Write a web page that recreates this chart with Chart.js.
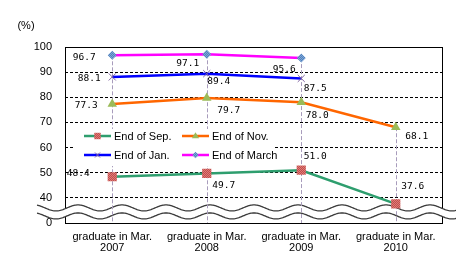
<!DOCTYPE html>
<html>
<head>
<meta charset="utf-8">
<script src="https://cdn.jsdelivr.net/npm/chart.js@4.4.0/dist/chart.umd.min.js"></script>
<style>
  html, body { margin: 0; padding: 0; background: #fff; }
  #chart { display: block; }
</style>
</head>
<body>
<canvas id="chart" width="456" height="263"></canvas>
<script>
/* Graduate employment rate by month, broken y axis (0 .. 40 squeezed). */

const categories = [
  ["graduate in Mar.", "2007"],
  ["graduate in Mar.", "2008"],
  ["graduate in Mar.", "2009"],
  ["graduate in Mar.", "2010"]
];
const seriesNames = ["End of Sep.", "End of Nov.", "End of Jan.", "End of March"];
const endOfSep = [48.4, 49.7, 51.0, 37.6];
const endOfNov = [77.3, 79.7, 78.0, 68.1];
const endOfJan = [88.1, 89.4, 87.5, null];
const endOfMarch = [96.7, 97.1, 95.6, null];

// axis: 30 is the bottom of the broken axis and is labelled "0"
const yMin = 30;
const yMax = 100;
const yStep = 10;
const yBreakLabel = "0";
const unitLabel = "(%)";

// where each value label sits, relative to its point (dx, dy in px)
const sepLabelOffsets = [[-34, -3], [17, 12], [14, -14], [17, -17]];
const novLabelOffsets = [[-26, 1], [22, 12], [16, 13], [21, 9]];
const janLabelOffsets = [[-23, 2], [12, 8], [14, 10]];
const marchLabelOffsets = [[-28, 2], [-19, 9], [-17, 11]];

const SANS = "'Liberation Sans', Arial, sans-serif";
const MONO = "'DejaVu Sans Mono', monospace";

function patternOf(c1, c2) {
  const p = document.createElement("canvas");
  p.width = 2; p.height = 2;
  const g = p.getContext("2d");
  g.fillStyle = c1; g.fillRect(0, 0, 2, 2);
  g.fillStyle = c2; g.fillRect(0, 0, 1, 1); g.fillRect(1, 1, 1, 1);
  return g.createPattern(p, "repeat");
}
const sepFill = patternOf("#c0504d", "#e07a78");
const marchFill = patternOf("#4f81bd", "#7fa6d6");

const seriesStyle = [
  { line: "#2e9e6e", style: "rect", radius: 6.5, fill: sepFill, edge: "#c0504d", offsets: sepLabelOffsets },
  { line: "#ff6600", style: "triangle", radius: 5.5, fill: "#9bbb59", edge: "#9bbb59", offsets: novLabelOffsets },
  { line: "#0000ff", style: "crossRot", radius: 5, fill: "#8064a2", edge: "#8064a2", offsets: janLabelOffsets },
  { line: "#ff00ff", style: "rectRot", radius: 4.5, fill: marchFill, edge: "#4f81bd", offsets: marchLabelOffsets }
];
const seriesData = [endOfSep, endOfNov, endOfJan, endOfMarch];

function drawMarker(ctx, style, x, y, r, fill, edge) {
  ctx.save();
  ctx.fillStyle = fill;
  ctx.strokeStyle = edge;
  ctx.lineWidth = 1;
  ctx.beginPath();
  if (style === "rect") {
    const s = r * Math.SQRT1_2;
    ctx.rect(x - s, y - s, 2 * s, 2 * s);
    ctx.fill();
  } else if (style === "triangle") {
    ctx.moveTo(x, y - r);
    ctx.lineTo(x + r * 0.95, y + r * 0.6);
    ctx.lineTo(x - r * 0.95, y + r * 0.6);
    ctx.closePath();
    ctx.fill();
  } else if (style === "rectRot") {
    ctx.moveTo(x, y - r); ctx.lineTo(x + r, y); ctx.lineTo(x, y + r); ctx.lineTo(x - r, y);
    ctx.closePath();
    ctx.fill();
  } else {
    const s = r * Math.SQRT1_2;
    ctx.moveTo(x - s, y - s); ctx.lineTo(x + s, y + s);
    ctx.moveTo(x + s, y - s); ctx.lineTo(x - s, y + s);
    ctx.stroke();
  }
  ctx.restore();
}

const breakPlugin = {
  id: "breakDecor",
  beforeDatasetsDraw(chart) {
    const { ctx, chartArea: a, scales } = chart;
    const y = scales.y;
    ctx.save();
    // plot frame
    ctx.strokeStyle = "#000";
    ctx.lineWidth = 1;
    ctx.strokeRect(a.left + 0.5, a.top + 0.5, a.right - a.left - 1, a.bottom - a.top);

    // wavy axis break, white band between two waves
    const y1 = y.getPixelForValue(36);
    const y2 = y.getPixelForValue(32.8);
    const amp = 3, period = 44, x0 = 37, x1 = chart.width;
    const wave = (x, yc) => yc - amp * Math.cos(2 * Math.PI * (x - 34) / period);
    ctx.beginPath();
    for (let x = x0; x <= x1; x++) ctx.lineTo(x, wave(x, y1));
    for (let x = x1; x >= x0; x--) ctx.lineTo(x, wave(x, y2));
    ctx.closePath();
    ctx.fillStyle = "#fff";
    ctx.fill();
    ctx.strokeStyle = "#3a3a3a";
    ctx.lineWidth = 1.3;
    [y1, y2].forEach((yc) => {
      ctx.beginPath();
      for (let x = x0; x <= x1; x++) ctx.lineTo(x, wave(x, yc));
      ctx.stroke();
    });

    // drop lines from the highest point of each category
    ctx.strokeStyle = "#a89cbc";
    ctx.lineWidth = 1;
    ctx.setLineDash([4, 2]);
    categories.forEach((_, j) => {
      let top = null, px = null;
      chart.data.datasets.forEach((ds, i) => {
        const pt = chart.getDatasetMeta(i).data[j];
        if (ds.data[j] == null || !pt) return;
        if (top === null || pt.y < top) { top = pt.y; px = pt.x; }
      });
      if (top === null) return;
      ctx.beginPath();
      ctx.moveTo(Math.round(px) + 0.5, top);
      ctx.lineTo(Math.round(px) + 0.5, a.bottom);
      ctx.stroke();
    });
    ctx.restore();
  },
  afterDatasetsDraw(chart) {
    const { ctx, chartArea: a } = chart;
    ctx.save();
    // value labels
    ctx.font = "9.5px " + MONO;
    ctx.fillStyle = "#000";
    ctx.textAlign = "center";
    ctx.textBaseline = "middle";
    seriesData.forEach((vals, i) => {
      const meta = chart.getDatasetMeta(i);
      vals.forEach((v, j) => {
        if (v == null) return;
        const off = seriesStyle[i].offsets[j];
        const pt = meta.data[j];
        ctx.fillText(v.toFixed(1), pt.x + off[0], pt.y + off[1]);
      });
    });

    // legend box inside the plot
    const lx = a.left + 10, ly = a.top + 82;
    ctx.fillStyle = "#fff";
    ctx.fillRect(lx, ly, 199, 37);
    ctx.font = "11px " + SANS;
    ctx.textAlign = "left";
    seriesNames.forEach((name, i) => {
      const col = i === 0 || i === 2 ? 0 : 1;
      const row = i < 2 ? 0 : 1;
      const sx = lx + 9 + col * 98;
      const sy = ly + 7 + row * 19;
      const st = seriesStyle[i];
      ctx.strokeStyle = st.line;
      ctx.lineWidth = 2.5;
      ctx.beginPath();
      ctx.moveTo(sx, sy);
      ctx.lineTo(sx + 27, sy);
      ctx.stroke();
      drawMarker(ctx, st.style, sx + 13.5, sy, st.radius * 0.7, st.fill, st.edge);
      ctx.fillStyle = "#000";
      ctx.fillText(name, sx + 30, sy + 1);
    });

    // unit label
    ctx.font = "11px " + SANS;
    ctx.textAlign = "center";
    ctx.fillText(unitLabel, 26, 26);
    ctx.restore();
  }
};

new Chart(document.getElementById("chart"), {
  type: "line",
  data: {
    labels: categories,
    datasets: seriesData.map((vals, i) => ({
      label: seriesNames[i],
      data: vals,
      borderColor: seriesStyle[i].line,
      borderWidth: 2.5,
      pointStyle: seriesStyle[i].style,
      pointRadius: seriesStyle[i].radius,
      pointBackgroundColor: seriesStyle[i].fill,
      pointBorderColor: seriesStyle[i].edge,
      pointBorderWidth: i === 2 ? 1 : 0,
      tension: 0,
      spanGaps: false
    }))
  },
  options: {
    responsive: false,
    animation: false,
    devicePixelRatio: 1,
    layout: { padding: { top: 47, right: 13, left: 0, bottom: 0 } },
    plugins: { legend: { display: false }, tooltip: { enabled: false } },
    scales: {
      x: {
        offset: true,
        grid: { display: false, drawTicks: false },
        border: { display: false },
        ticks: { color: "#000", font: { family: SANS, size: 11, lineHeight: 1.0 }, padding: 8, maxRotation: 0 },
        afterFit(scale) { scale.height = 40; }
      },
      y: {
        min: yMin,
        max: yMax,
        grid: {
          drawTicks: false,
          color: (c) => (c.tick && c.tick.value > yMin && c.tick.value < yMax ? "#000" : "rgba(0,0,0,0)")
        },
        border: { display: false, dash: [3, 2] },
        ticks: {
          stepSize: yStep,
          color: "#000",
          font: { family: SANS, size: 11 },
          padding: 13,
          callback: (v) => (v === yMin ? yBreakLabel : v)
        },
        afterFit(scale) { scale.width = 65; }
      }
    }
  },
  plugins: [breakPlugin]
});
</script>
</body>
</html>
